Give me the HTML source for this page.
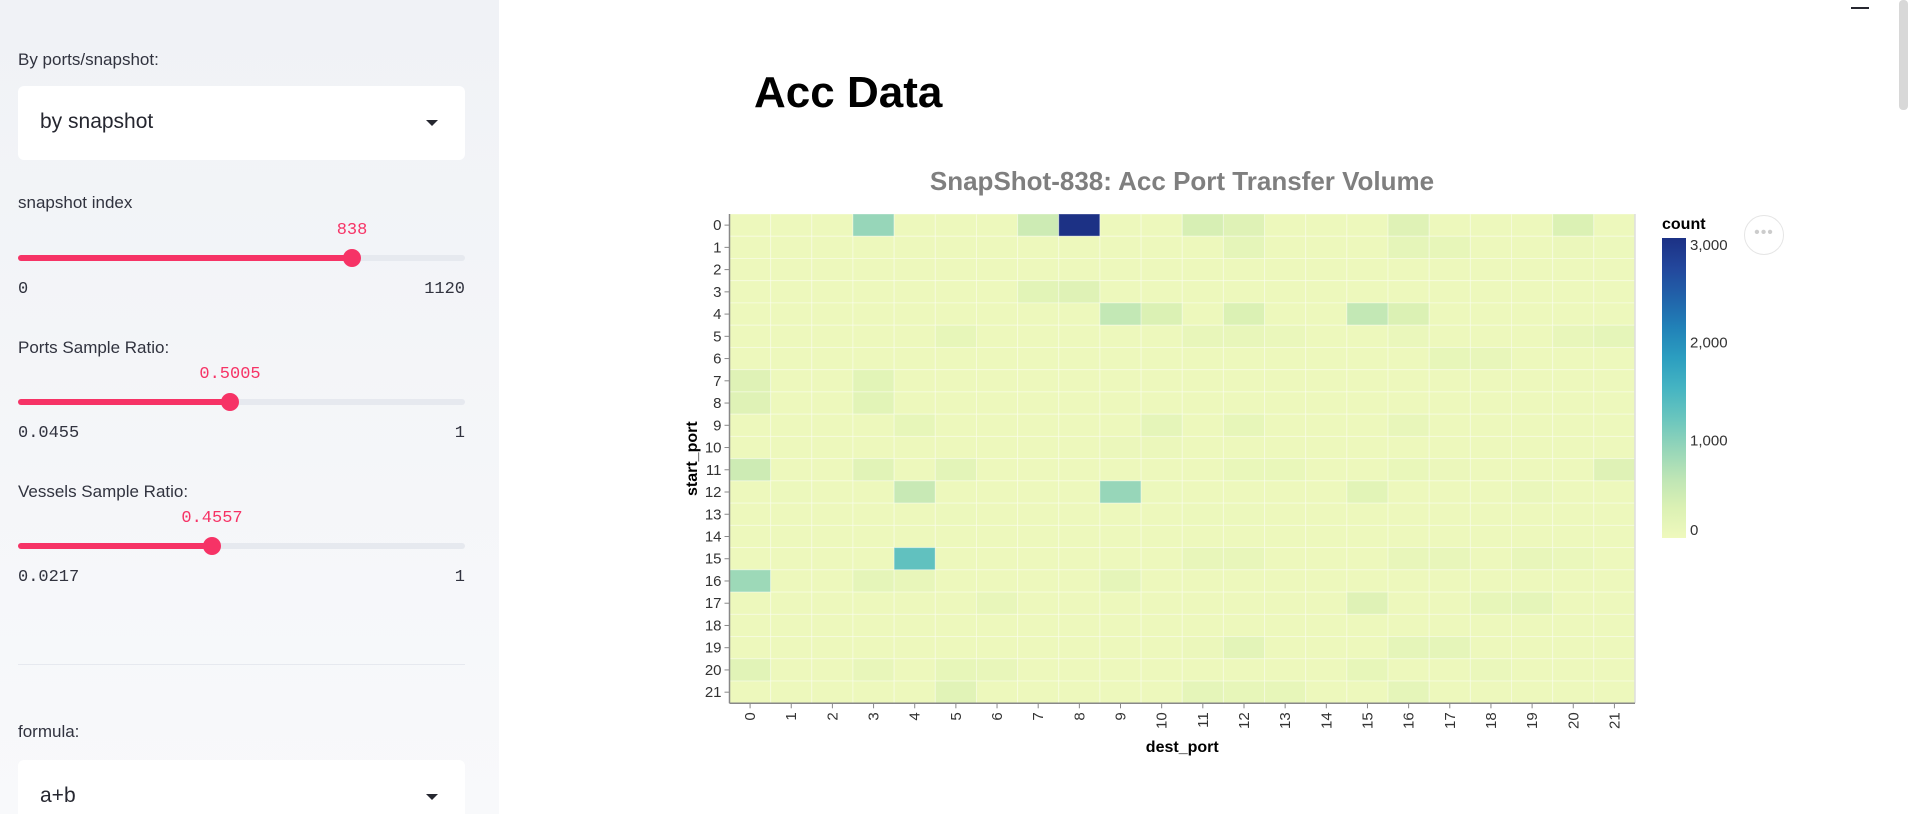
<!DOCTYPE html>
<html><head><meta charset="utf-8"><style>
html,body{margin:0;padding:0;width:1908px;height:814px;overflow:hidden;background:#fff;font-family:"Liberation Sans",sans-serif;}
#sidebar{position:absolute;left:0;top:0;width:499px;height:814px;background:linear-gradient(#f0f2f6,#f8f9fb);}
.lbl{position:absolute;left:18px;font-size:17px;color:#31333f;}
.sel{position:absolute;left:18px;width:447px;height:74px;background:#fff;border-radius:6px;}
.sel span{position:absolute;left:22px;top:24px;font-size:21px;color:#262730;}
.sel i{position:absolute;right:27px;top:34px;width:0;height:0;border-left:6px solid transparent;border-right:6px solid transparent;border-top:6px solid #262730;}
.track{position:absolute;left:18px;width:447px;height:6px;border-radius:3px;background:#e6e9ef;}
.fill{position:absolute;left:0;top:0;height:6px;border-radius:3px;background:#f63366;}
.thumb{position:absolute;top:-6px;width:18px;height:18px;border-radius:9px;background:#f63366;margin-left:-9px;}
.val{position:absolute;font-family:"Liberation Mono",monospace;font-size:17px;color:#f63366;transform:translateX(-50%);}
.mm{position:absolute;font-family:"Liberation Mono",monospace;font-size:17px;color:#31333f;}
</style></head><body>
<div id="sidebar">
  <div class="lbl" style="top:50px">By ports/snapshot:</div>
  <div class="sel" style="top:86px"><span>by snapshot</span><i></i></div>
  <div class="lbl" style="top:193px">snapshot index</div>
  <div class="val" style="left:352px;top:221px">838</div>
  <div class="track" style="top:255px"><div class="fill" style="width:334px"></div><div class="thumb" style="left:334px"></div></div>
  <div class="mm" style="left:18px;top:280px">0</div><div class="mm" style="right:34px;top:280px">1120</div>
  <div class="lbl" style="top:338px">Ports Sample Ratio:</div>
  <div class="val" style="left:230px;top:365px">0.5005</div>
  <div class="track" style="top:399px"><div class="fill" style="width:212px"></div><div class="thumb" style="left:212px"></div></div>
  <div class="mm" style="left:18px;top:424px">0.0455</div><div class="mm" style="right:34px;top:424px">1</div>
  <div class="lbl" style="top:482px">Vessels Sample Ratio:</div>
  <div class="val" style="left:212px;top:509px">0.4557</div>
  <div class="track" style="top:543px"><div class="fill" style="width:194px"></div><div class="thumb" style="left:194px"></div></div>
  <div class="mm" style="left:18px;top:568px">0.0217</div><div class="mm" style="right:34px;top:568px">1</div>
  <div style="position:absolute;left:18px;top:664px;width:447px;height:1px;background:#e6e9ef"></div>
  <div class="lbl" style="top:722px">formula:</div>
  <div class="sel" style="top:760px"><span>a+b</span><i></i></div>
</div>
<div style="position:absolute;left:1851px;top:7px;width:18px;height:2px;background:#262730"></div>
<div style="position:absolute;left:1899px;top:0;width:9px;height:110px;background:#d8d8d8;border-radius:4px"></div>
<div style="position:absolute;left:754px;top:68px;font-size:44px;font-weight:bold;color:#000">Acc Data</div>
<svg id="chart" width="1908" height="814" style="position:absolute;left:0;top:0"></svg>
<div style="position:absolute;left:1744px;top:215px;width:38px;height:38px;border-radius:20px;border:1px solid #e5e5e5;background:#fff;color:#ccc;text-align:center;line-height:34px;font-size:16px;letter-spacing:1px">•••</div>
<script>
const ports = [0,1,2,3,4,5,6,7,8,9,10,11,12,13,14,15,16,17,18,19,20,21];
const counts = [
 [30,30,30,900,30,30,30,450,3070,30,30,350,250,30,30,30,250,30,30,30,300,30],
 [30,30,30,30,30,30,30,30,30,30,30,30,150,30,30,30,150,120,30,30,60,40],
 [30,30,30,30,30,30,30,30,30,30,30,30,30,30,30,30,30,30,30,30,30,30],
 [30,30,30,30,30,30,30,200,250,30,30,30,30,30,30,30,30,30,30,30,30,30],
 [30,30,30,30,30,30,30,30,30,550,300,30,300,30,30,550,300,30,30,30,30,30],
 [30,30,30,30,30,120,30,30,30,30,30,100,100,80,30,30,80,30,30,30,100,150],
 [30,30,30,30,30,30,30,30,30,30,30,30,30,30,30,30,30,120,100,30,30,30],
 [250,30,30,200,30,30,30,30,30,30,30,30,30,30,30,30,30,30,30,30,30,30],
 [250,30,30,200,30,30,30,30,30,30,30,30,30,30,30,30,30,30,30,30,30,30],
 [30,30,30,30,120,30,30,30,30,30,150,30,120,30,30,30,100,30,30,30,30,30],
 [30,30,30,30,30,30,30,30,30,60,60,30,30,30,30,30,30,30,30,30,30,30],
 [450,30,30,220,30,180,30,30,30,30,30,30,90,90,30,30,90,60,30,30,30,250],
 [30,50,30,30,500,30,30,30,30,900,50,30,30,30,30,200,30,30,30,80,30,30],
 [30,30,30,30,30,50,30,30,30,30,30,50,50,30,30,30,30,30,30,30,30,30],
 [30,30,30,30,30,30,30,30,30,30,30,30,30,30,30,30,30,30,30,30,30,30],
 [30,30,30,30,1300,30,30,30,30,30,30,100,100,30,30,30,100,100,30,100,80,30],
 [850,30,30,150,100,30,30,30,30,150,30,30,30,30,30,30,30,30,30,30,30,30],
 [30,30,30,30,30,30,100,30,30,30,30,30,30,30,30,250,30,30,120,150,30,30],
 [30,30,30,30,30,30,30,30,30,30,30,30,30,30,30,30,30,30,30,30,30,30],
 [30,30,30,30,30,30,30,30,30,30,30,60,180,30,30,30,150,150,30,30,30,30],
 [220,30,30,100,30,120,100,30,30,30,30,30,30,30,30,120,30,30,80,30,30,30],
 [30,30,30,30,30,220,30,30,30,30,30,150,120,120,30,30,150,30,30,30,30,30]
];
const legendTicks = [0,1000,2000,3000];
const colorMax = 3070;
const scheme = ["#eff9bd","#dbf1b4","#bde5b5","#94d5b9","#69c5be","#45b4c2","#2c9ec0","#2182b8","#2163aa","#23479c","#1c3185"];
const L=729.5,T=214,W=905.5,H=489.3;
const x = i => L + i*W/ports.length;
const y = j => T + j*H/ports.length;
const lx = v => 538 - v/colorMax*300;
function hex(h){return [1,3,5].map(k=>parseInt(h.substr(k,2),16));}
function color(v){
  let t=Math.max(0,Math.min(1,v/colorMax))*(scheme.length-1);
  let i=Math.min(scheme.length-2,Math.floor(t)),f=t-i;
  let a=hex(scheme[i]),b=hex(scheme[i+1]);
  return 'rgb('+a.map((c,k)=>Math.round(c+(b[k]-c)*f)).join(',')+')';
}
const NS='http://www.w3.org/2000/svg', svg=document.getElementById('chart');
function mk(tag,attrs,parent){const e=document.createElementNS(NS,tag);for(const k in attrs)e.setAttribute(k,attrs[k]);(parent||svg).appendChild(e);return e;}
const title=mk('text',{x:1182,y:190,'text-anchor':'middle','font-size':26,'font-weight':'bold',fill:'#7f7f7f','font-family':'Liberation Sans, sans-serif'});
title.textContent='SnapShot-838: Acc Port Transfer Volume';


const cw=W/ports.length,ch=H/ports.length;
counts.forEach((row,j)=>row.forEach((v,i)=>{
  const r=mk('rect',{x:x(i),y:y(j),width:cw,height:ch,fill:color(v),stroke:'#ffffff','stroke-opacity':0.35,'stroke-width':1});
  
  
}));
mk('line',{x1:L+W,y1:T,x2:L+W,y2:T+H,stroke:'#ddd','stroke-width':1.5});
mk('line',{x1:L,y1:T,x2:L,y2:T+H,stroke:'#888','stroke-width':1.5});
mk('line',{x1:L,y1:T+H,x2:L+W,y2:T+H,stroke:'#888','stroke-width':1.5});
ports.forEach((p,j)=>{
  const cy=y(j)+ch/2;
  mk('line',{x1:L-5,y1:cy,x2:L,y2:cy,stroke:'#888'});
  const t=mk('text',{x:L-8,y:cy+5,'text-anchor':'end','font-size':15,fill:'#333'});
  t.textContent=p;
  
  
});
ports.forEach((p,i)=>{
  const cx=x(i)+cw/2;
  mk('line',{x1:cx,y1:T+H,x2:cx,y2:T+H+5,stroke:'#888'});
  const t=mk('text',{x:cx+5,y:T+H+9,'text-anchor':'end','font-size':15,fill:'#333',transform:'rotate(-90 '+(cx+5)+' '+(T+H+9)+')'});
  t.textContent=p;
  
  
});
const xt=mk('text',{x:L+W/2,y:752,'text-anchor':'middle','font-size':16,'font-weight':'bold',fill:'#000'});
xt.textContent='dest_port';


const yt=mk('text',{x:697,y:T+H/2,'text-anchor':'middle','font-size':16,'font-weight':'bold',fill:'#000',transform:'rotate(-90 697 '+(T+H/2)+')'});
yt.textContent='start_port';


const defs=mk('defs',{});
const g=mk('linearGradient',{id:'lg',x1:0,y1:1,x2:0,y2:0},defs);
scheme.forEach((c,k)=>mk('stop',{offset:k/(scheme.length-1),'stop-color':c},g));
const lr=mk('rect',{x:1662,y:238,width:24,height:300,fill:'url(#lg)'});


const lt=mk('text',{x:1662,y:229,'font-size':16,'font-weight':'bold',fill:'#000'});
lt.textContent='count';


legendTicks.forEach(v=>{
  const t=mk('text',{x:1690,y:Math.min(535,Math.max(250,lx(v)+5)),'font-size':15,fill:'#333'});
  t.textContent=v.toLocaleString('en-US');
  
  
});
</script>
</body></html>
